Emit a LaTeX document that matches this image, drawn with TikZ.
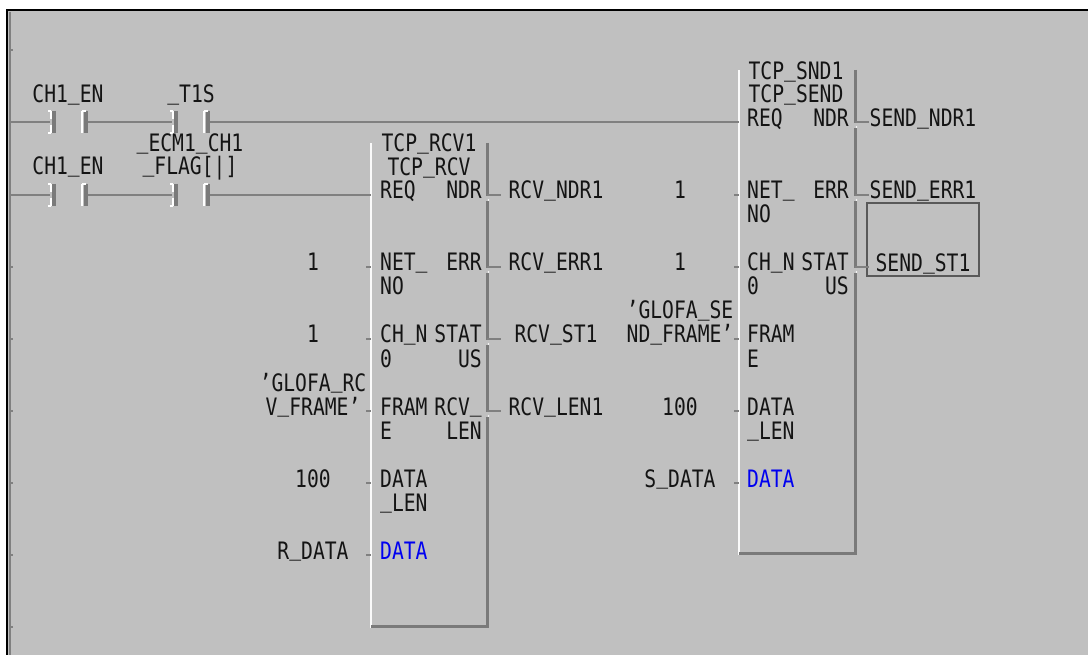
\documentclass[tikz,border=0pt]{standalone}
\usepackage{fontspec}
\setmainfont{DejaVu Sans Mono}[FakeStretch=0.82,Ligatures=NoCommon]
\newcommand{\us}{\raisebox{3.5pt}{\char95\relax}}
\newcommand{\tick}{\char39\relax}
\definecolor{panel}{HTML}{C0C0C0}
\definecolor{wire}{HTML}{808080}
\definecolor{datablue}{HTML}{0000F0}
\definecolor{textdark}{HTML}{141414}
\begin{document}
\begin{tikzpicture}[
  x=1pt, y=-1pt,
  label/.style={inner sep=0pt, font=\fontsize{24}{23}\selectfont, text=textdark},
  pinl/.style={label, anchor=base west},
  pinr/.style={label, anchor=base east},
  var/.style={label, anchor=base, align=center},
  fbbox/.style={rectangle, anchor=north west, inner sep=0pt},
  wireline/.style={draw=wire, line width=1.8pt},
  stub/.style={draw=wire, line width=1.5pt},
  shine/.style={draw=white!92!panel, line width=2.2pt},
  shade/.style={draw=wire!95!black, line width=3.6pt},
  contact/.pic={
    \draw[white, line width=1.8pt] (-4,11) -- (-1,11) (-4,-11) -- (-1,-11);
    \draw[white, line width=1.8pt] (-1,-11) -- (-1,-3) (-1,3) -- (-1,11);
    \draw[shade] (2,-11) -- (2,11);
    \draw[white, line width=1.8pt] (30,-11) -- (30,11);
    \draw[shade] (34,-11) -- (34,11);
    \draw[white, line width=1.8pt] (30,-11) -- (34,-11);
    \coordinate (-in) at (-2,0);
    \coordinate (-out) at (36,0);
  }
]
  % background and window edge
  \useasboundingbox (0,0) rectangle (1088,655);
  \fill[white] (0,0) rectangle (1088,655);
  \fill[panel] (7,10) rectangle (1088,655);
  \draw[wire, line width=1.5pt] (10,12) -- (10,655);
  \draw[black, line width=2.4pt] (7,655) -- (7,10) -- (1088,10);
  \foreach \y in {50,122,195,267,339,411,483,555,627}
    \draw[stub] (9,\y) -- (13,\y);

  % contacts
  \pic (conA) at (52,122) {contact};
  \pic (conB) at (174,122) {contact};
  \pic (conC) at (52,195) {contact};
  \pic (conD) at (174,195) {contact};
  \coordinate (railA) at (9,122);
  \coordinate (railB) at (9,195);

  \node [var] (nameA) at (68,103) {CH1\us EN};
  \node [var] (nameB) at (191,103) {\us T1S};
  \node [var] (nameC) at (68,175) {CH1\us EN};
  \node [var] (nameD) at (190,152) {\us ECM1\us CH1};
  \node [var] (nameE) at (190,175) {\us FLAG[|]};

  % function blocks
  \node [fbbox, minimum width=116pt, minimum height=485pt] (rcv) at (371,143) {};
  \node [fbbox, minimum width=116pt, minimum height=485pt] (snd) at (739,70) {};
  \foreach \blk in {rcv,snd} {
    \draw[shine] (\blk.north west) -- (\blk.south west);
    \draw[shade] (\blk.north east) -- ([yshift=1.8pt]\blk.south east) -- ([yshift=1.8pt]\blk.south west);
  }

  % wires
  \draw[wireline] (railA) -- (conA-in);
  \draw[wireline] (conA-out) -- (conB-in);
  \draw[wireline] (conB-out) -- (snd.west |- conB-out);
  \draw[wireline] (railB) -- (conC-in);
  \draw[wireline] (conC-out) -- (conD-in);
  \draw[wireline] (conD-out) -- (rcv.west |- conD-out);

  % TCP_RCV block
  \node [var] (rcvinst) at (429,152) {TCP\us RCV1};
  \node [var] (rcvtype) at (429,176) {TCP\us RCV};
  \node [pinl] (rcvreq) at (380,199) {REQ};
  \node [pinl] (rcvnet) at (380,271) {NET\us};
  \node [pinl] (rcvnetb) at (380,295) {NO};
  \node [pinl] (rcvch) at (380,343) {CH\us N};
  \node [pinl] (rcvchb) at (380,367) {0};
  \node [pinl] (rcvfr) at (380,415) {FRAM};
  \node [pinl] (rcvfrb) at (380,439) {E};
  \node [pinl] (rcvlen) at (380,487) {DATA};
  \node [pinl] (rcvlenb) at (380,511) {\us LEN};
  \node [pinl, text=datablue] (rcvdata) at (380,559) {DATA};
  \node [pinr] (rcvndr) at (482,199) {NDR};
  \node [pinr] (rcverr) at (482,271) {ERR};
  \node [pinr] (rcvst) at (482,343) {STAT};
  \node [pinr] (rcvstb) at (482,367) {US};
  \node [pinr] (rcvrl) at (482,415) {RCV\us};
  \node [pinr] (rcvrlb) at (482,439) {LEN};

  \node [var] (rcvvnet) at (313,271) {1};
  \node [var] (rcvvch) at (313,343) {1};
  \node [var] (rcvvfr) at (313,391) {\tick GLOFA\us RC};
  \node [var] (rcvvfrb) at (313,415) {V\us FRAME\tick};
  \node [var] (rcvvlen) at (313,487) {100};
  \node [var] (rcvvdata) at (313,559) {R\us DATA};
  \node [var] (rcvondr) at (556,199) {RCV\us NDR1};
  \node [var] (rcvoerr) at (556,271) {RCV\us ERR1};
  \node [var] (rcvost) at (556,343) {RCV\us ST1};
  \node [var] (rcvolen) at (556,415) {RCV\us LEN1};

  % TCP_SEND block
  \node [var] (sndinst) at (796,80) {TCP\us SND1};
  \node [var] (sndtype) at (796,103) {TCP\us SEND};
  \node [pinl] (sndreq) at (747,127) {REQ};
  \node [pinl] (sndnet) at (747,199) {NET\us};
  \node [pinl] (sndnetb) at (747,223) {NO};
  \node [pinl] (sndch) at (747,271) {CH\us N};
  \node [pinl] (sndchb) at (747,295) {0};
  \node [pinl] (sndfr) at (747,343) {FRAM};
  \node [pinl] (sndfrb) at (747,367) {E};
  \node [pinl] (sndlen) at (747,415) {DATA};
  \node [pinl] (sndlenb) at (747,439) {\us LEN};
  \node [pinl, text=datablue] (snddata) at (747,487) {DATA};
  \node [pinr] (sndndr) at (849,127) {NDR};
  \node [pinr] (snderr) at (849,199) {ERR};
  \node [pinr] (sndst) at (849,271) {STAT};
  \node [pinr] (sndstb) at (849,295) {US};

  \node [var] (sndvnet) at (680,199) {1};
  \node [var] (sndvch) at (680,271) {1};
  \node [var] (sndvfr) at (680,319) {\tick GLOFA\us SE};
  \node [var] (sndvfrb) at (680,343) {ND\us FRAME\tick};
  \node [var] (sndvlen) at (680,415) {100};
  \node [var] (sndvdata) at (680,487) {S\us DATA};
  \node [var] (sndondr) at (923,127) {SEND\us NDR1};
  \node [var] (sndoerr) at (923,199) {SEND\us ERR1};
  \node [var] (sndost) at (923,272) {SEND\us ST1};
  \node [draw=black!65, line width=1.3pt, rectangle, minimum width=112pt, minimum height=73pt, inner sep=0pt] (sndbox) at (923,239.5) {};

  % pin stubs
  \foreach \blk/\ys in {rcv/{267,339,411,483,555},snd/{195,267,339,411,483}}
    \foreach \y in \ys {
      \coordinate (\blk in\y) at ([xshift=-5pt]\blk.west |- 0,\y);
      \draw[stub] (\blk in\y) -- (\blk.west |- 0,\y);
    }
  \foreach \blk/\ys in {rcv/{195,267,339,411},snd/{122,195,267}}
    \foreach \y in \ys {
      \coordinate (\blk out\y) at ([xshift=14pt]\blk.east |- 0,\y);
      \fill[panel] ([xshift=-2.2pt,yshift=-6pt]\blk.east |- 0,\y) rectangle ([xshift=2.2pt,yshift=-1pt]\blk.east |- 0,\y);
      \draw[stub] (\blk.east |- 0,\y) -- (\blk out\y);
      \fill[white] ([xshift=1pt,yshift=-5pt]\blk.east |- 0,\y) circle (0.9pt);
    }
\end{tikzpicture}
\end{document}
